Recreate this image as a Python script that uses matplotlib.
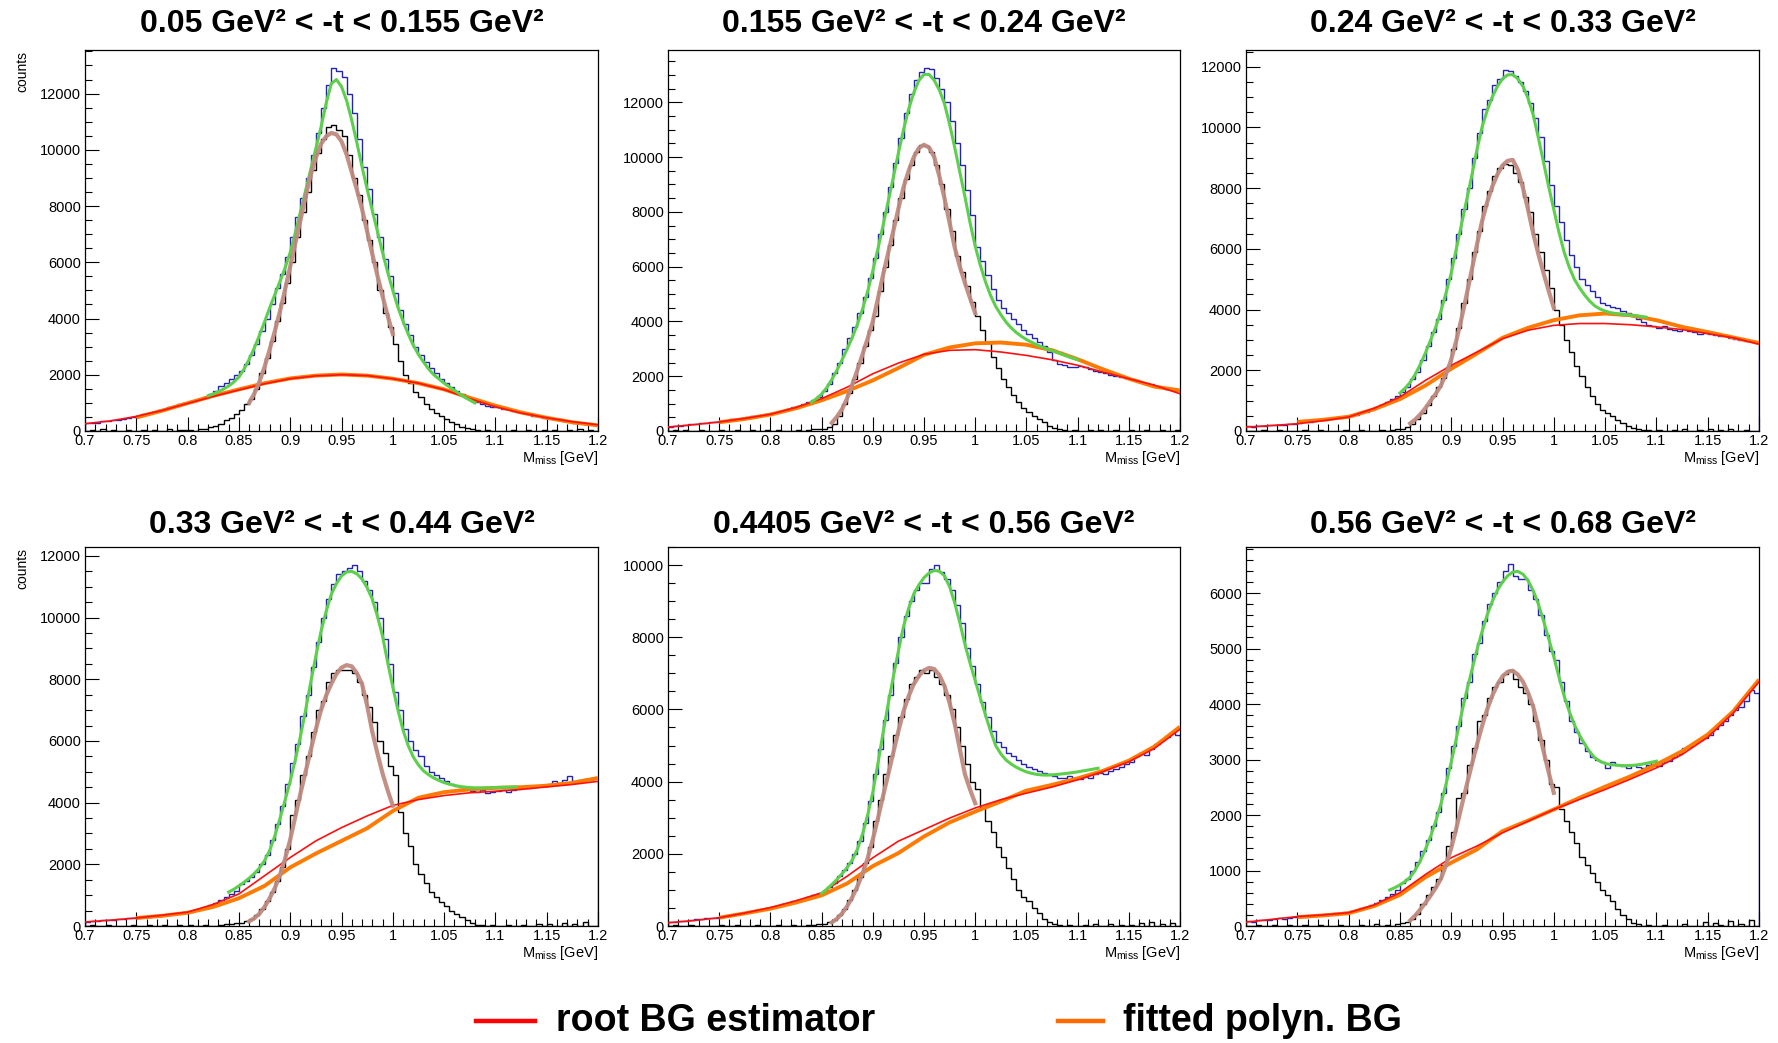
import numpy as np
import matplotlib
matplotlib.use("Agg")
import matplotlib.pyplot as plt
from matplotlib.ticker import MultipleLocator, FuncFormatter
from matplotlib.lines import Line2D

plt.rcParams['font.family'] = ['Liberation Sans', 'DejaVu Sans']

# ---------------- data ----------------
titles = ["0.05 GeV² < -t < 0.155 GeV²", "0.155 GeV² < -t < 0.24 GeV²", "0.24 GeV² < -t < 0.33 GeV²",
          "0.33 GeV² < -t < 0.44 GeV²", "0.4405 GeV² < -t < 0.56 GeV²", "0.56 GeV² < -t < 0.68 GeV²"]
y_max = [13550, 13910, 12550, 12290, 10500, 6830]
y_major = [2000, 2000, 2000, 2000, 2000, 1000]
y_minor = [500, 500, 500, 500, 500, 200]

# histogram bins: 0.7 .. 1.2, width 0.005
hist_lo, hist_hi, hist_w = 0.7, 1.2, 0.005

blue_1 = [270, 300, 290, 340, 350, 380, 400, 430, 470, 500,
          540, 590, 640, 690, 740, 790, 850, 900, 950, 1000,
          1020, 1070, 1130, 1200, 1300, 1420, 1600, 1700, 1850, 2000,
          2150, 2400, 2700, 3100, 3550, 4000, 4500, 5100, 5600, 6200,
          6900, 7600, 8300, 9000, 9800, 10600, 11500, 12300, 12900, 12800,
          12600, 12000, 11300, 10400, 9400, 8600, 7700, 6900, 6100, 5500,
          4900, 4300, 3800, 3400, 3000, 2700, 2450, 2250, 2050, 1850,
          1700, 1550, 1420, 1300, 1200, 1100, 1020, 950, 880, 840,
          840, 790, 770, 710, 690, 630, 610, 550, 530, 480,
          470, 420, 410, 360, 350, 300, 300, 250, 250, 200]
black_1 = [0, 20, 0, 60, 0, 30, 0, 0, 40, 10,
           0, 30, 0, 50, 10, 0, 60, 0, 20, 40,
           30, 10, 60, 80, 150, 180, 250, 380, 470, 600,
           750, 950, 1150, 1500, 2050, 2600, 3200, 3900, 4550, 5250,
           6000, 6900, 7800, 8500, 9300, 9900, 10400, 10800, 10900, 10700,
           10500, 9800, 9000, 8400, 7500, 6800, 6000, 5000, 4200, 3700,
           3100, 2500, 2000, 1700, 1400, 1200, 950, 800, 650, 550,
           420, 330, 240, 160, 100, 60, 20, 0, 30, 0,
           0, 10, 0, 40, 0, 0, 30, 0, 0, 20,
           0, 50, 0, 0, 20, 0, 60, 0, 30, 0]

blue_2 = [160, 170, 200, 210, 240, 260, 290, 300, 330, 340,
          360, 380, 420, 440, 470, 500, 530, 560, 590, 620,
          650, 700, 740, 800, 860, 920, 980, 1050, 1150, 1250,
          1450, 1700, 2100, 2500, 3000, 3400, 3800, 4300, 4900, 5600,
          6300, 7200, 8000, 8900, 9800, 10700, 11600, 12300, 12800, 13100,
          13250, 13200, 12900, 12500, 12000, 11300, 10500, 9700, 8800, 7900,
          6700, 6200, 5700, 5200, 4800, 4500, 4300, 4100, 3900, 3700,
          3550, 3400, 3250, 3100, 2900, 2600, 2450, 2400, 2350, 2320,
          2380, 2330, 2260, 2200, 2150, 2100, 2060, 2020, 1980, 1940,
          1900, 1850, 1800, 1750, 1700, 1650, 1600, 1550, 1500, 1450]
black_2 = [0, 20, 0, 40, 0, 0, 30, 0, 10, 0,
           20, 0, 0, 30, 0, 0, 40, 0, 0, 20,
           0, 30, 0, 0, 0, 20, 0, 40, 60, 80,
           90, 150, 250, 550, 1000, 1400, 1900, 2500, 3100, 3700,
           4200, 5100, 6000, 6800, 7700, 8500, 9200, 9700, 10200, 10450,
           10400, 10200, 9700, 9000, 8100, 7300, 6400, 5800, 5300, 4700,
           4200, 3700, 3200, 2700, 2300, 1900, 1600, 1300, 1050, 850,
           700, 550, 450, 330, 200, 120, 60, 30, 0, 40,
           0, 0, 30, 0, 50, 0, 0, 20, 0, 0,
           40, 0, 0, 20, 0, 0, 50, 0, 0, 30]

blue_3 = [150, 140, 170, 160, 190, 200, 210, 200, 230, 240,
          250, 280, 300, 330, 350, 370, 400, 420, 440, 470,
          500, 540, 590, 640, 700, 780, 860, 950, 1050, 1150,
          1300, 1450, 1700, 1950, 2350, 2800, 3250, 3700, 4300, 5000,
          5700, 6500, 7300, 8000, 9000, 9800, 10600, 10900, 11400, 11600,
          11900, 11850, 11700, 11500, 11200, 10800, 10300, 9700, 8900, 8100,
          7400, 6900, 6300, 5800, 5400, 5000, 4800, 4600, 4400, 4200,
          4150, 4100, 4050, 3950, 3900, 3800, 3700, 3600, 3500, 3450,
          3400, 3450, 3370, 3330, 3300, 3400, 3280, 3250, 3200, 3230,
          3180, 3150, 3120, 3150, 3050, 3030, 3000, 2970, 2950, 2900]
black_3 = [0, 10, 0, 30, 0, 0, 20, 0, 0, 10,
           0, 20, 0, 0, 30, 0, 0, 10, 0, 20,
           0, 0, 30, 0, 0, 10, 40, 0, 30, 50,
           80, 120, 220, 380, 600, 850, 1150, 1450, 1750, 2100,
           2700, 3400, 4200, 5000, 5900, 6600, 7400, 7900, 8400, 8650,
           8800, 8750, 8500, 8200, 7700, 7200, 6500, 5900, 5300, 4700,
           4000, 3500, 3000, 2600, 2150, 1800, 1450, 1150, 900, 700,
           600, 500, 350, 250, 180, 100, 60, 20, 40, 0,
           30, 0, 0, 40, 0, 60, 0, 0, 30, 0,
           50, 0, 40, 0, 60, 0, 0, 30, 0, 0]

blue_4 = [140, 150, 160, 190, 180, 200, 220, 230, 250, 260,
          270, 280, 300, 310, 330, 350, 370, 390, 410, 440,
          470, 520, 560, 620, 690, 760, 840, 930, 1030, 1150,
          1350, 1450, 1600, 1750, 2000, 2300, 2800, 3300, 3900, 4600,
          5300, 5900, 6800, 7500, 8400, 9200, 10000, 10600, 11100, 11400,
          11500, 11600, 11700, 11500, 11200, 10900, 10500, 10000, 9300, 8500,
          7600, 7000, 6400, 6000, 5700, 5500, 5200, 5000, 4900, 4800,
          4700, 4600, 4550, 4500, 4450, 4380, 4350, 4400, 4300, 4350,
          4380, 4400, 4350, 4420, 4450, 4500, 4480, 4550, 4530, 4580,
          4600, 4700, 4650, 4750, 4850, 4700, 4750, 4780, 4720, 4800]
black_4 = [0, 20, 0, 0, 30, 0, 10, 0, 0, 20,
           0, 0, 30, 0, 0, 20, 0, 0, 40, 0,
           20, 0, 0, 30, 0, 0, 20, 50, 80, 100,
           100, 150, 230, 350, 550, 800, 1100, 1450, 1900, 2500,
           3600, 4100, 4900, 5500, 6300, 7000, 7300, 7900, 8200, 8300,
           8300, 8300, 8200, 7900, 7500, 7100, 6600, 6000, 5600, 5200,
           4900, 3700, 3000, 2600, 2000, 1700, 1400, 1100, 950, 780,
           650, 500, 400, 300, 200, 100, 40, 20, 0, 30,
           0, 0, 40, 0, 0, 20, 0, 0, 50, 0,
           60, 0, 0, 100, 0, 50, 0, 120, 0, 0]

blue_5 = [100, 120, 140, 150, 160, 190, 200, 210, 220, 230,
          250, 270, 300, 330, 360, 380, 410, 440, 470, 500,
          530, 560, 600, 640, 680, 720, 760, 800, 860, 900,
          950, 1080, 1200, 1380, 1550, 1750, 2000, 2350, 2850, 3450,
          4200, 4900, 5700, 6400, 7300, 8000, 8600, 9000, 9300, 9500,
          9500, 9900, 10000, 9800, 9600, 9300, 8900, 8400, 7700, 7200,
          6700, 6200, 5800, 5400, 5100, 4950, 4800, 4700, 4600, 4500,
          4400, 4350, 4300, 4250, 4200, 4150, 4100, 4100, 4150, 4100,
          4080, 4120, 4100, 4200, 4250, 4200, 4300, 4350, 4400, 4500,
          4550, 4700, 4800, 4750, 4900, 5050, 5150, 5250, 5350, 5300]
black_5 = [0, 20, 0, 0, 30, 0, 0, 10, 0, 0,
           20, 0, 0, 30, 0, 0, 0, 20, 0, 0,
           0, 30, 0, 0, 20, 0, 0, 30, 40, 60,
           60, 100, 170, 300, 480, 720, 1000, 1350, 1750, 2200,
           2900, 3500, 4200, 4700, 5300, 5800, 6300, 6700, 6900, 7100,
           7000, 7100, 6900, 6700, 6400, 6000, 5500, 5000, 4500, 4000,
           3800, 3300, 2900, 2600, 2200, 1900, 1600, 1300, 1000, 800,
           700, 500, 350, 200, 120, 60, 30, 0, 40, 0,
           0, 30, 0, 50, 0, 0, 60, 0, 30, 0,
           40, 0, 80, 0, 120, 0, 60, 0, 90, 0]

blue_6 = [90, 80, 100, 110, 100, 130, 140, 120, 150, 160,
          170, 170, 180, 190, 200, 210, 220, 230, 240, 250,
          270, 290, 320, 350, 380, 420, 470, 520, 580, 640,
          780, 850, 1000, 1150, 1350, 1550, 1800, 2050, 2400, 2850,
          3250, 3600, 4100, 4400, 4900, 5100, 5500, 5800, 6000, 6200,
          6400, 6520, 6300, 6250, 6250, 6050, 5900, 5600, 5250, 4950,
          4800, 4400, 4050, 3700, 3500, 3300, 3150, 3050, 3000, 2950,
          2850, 2950, 2900, 2880, 2850, 2900, 2870, 2850, 2900, 2950,
          2880, 2950, 2980, 3050, 3100, 3200, 3230, 3300, 3350, 3380,
          3450, 3550, 3620, 3700, 3800, 3900, 3950, 4050, 4250, 4200]
black_6 = [0, 0, 20, 0, 0, 10, 0, 0, 20, 0,
           0, 10, 0, 0, 20, 0, 0, 0, 10, 0,
           0, 0, 20, 0, 0, 30, 0, 20, 0, 40,
           50, 70, 120, 220, 400, 550, 700, 850, 1100, 1450,
           1700, 2300, 2400, 2900, 3200, 3700, 3800, 4100, 4300, 4400,
           4550, 4620, 4450, 4300, 4200, 4000, 3700, 3350, 3000, 2550,
           2500, 2100, 1900, 1700, 1500, 1250, 1100, 950, 800, 650,
           550, 450, 300, 200, 130, 60, 40, 0, 20, 0,
           0, 20, 0, 0, 0, 30, 0, 0, 0, 80,
           0, 60, 20, 0, 90, 0, 40, 0, 100, 0]

# root BG estimator, sampled 0.700 .. 1.200 every 0.025
red_1 = [260, 360, 520, 730, 980, 1230, 1460, 1680, 1860, 1960, 2000, 1970, 1860, 1700, 1470, 1150, 860, 640, 470, 330, 220]
red_2 = [146, 230, 330, 460, 610, 860, 1180, 1600, 2090, 2480, 2800, 2945, 2970, 2885, 2760, 2600, 2400, 2150, 1910, 1670, 1360]
red_3 = [130, 180, 240, 340, 460, 750, 1120, 1670, 2160, 2600, 3040, 3320, 3480, 3540, 3540, 3500, 3430, 3340, 3210, 3070, 2860]
red_4 = [130, 190, 260, 350, 450, 700, 1040, 1630, 2220, 2760, 3190, 3570, 3910, 4100, 4230, 4320, 4370, 4430, 4510, 4590, 4690]
red_5 = [90, 150, 230, 360, 510, 700, 920, 1380, 1890, 2350, 2670, 2990, 3270, 3500, 3680, 3850, 4050, 4280, 4550, 4920, 5450]
red_6 = [70, 120, 170, 200, 240, 380, 600, 930, 1230, 1440, 1680, 1890, 2100, 2280, 2460, 2650, 2850, 3090, 3400, 3840, 4400]

# fitted polynomial BG, sampled 0.750 .. 1.200 every 0.025
orange_1 = [480, 720, 990, 1250, 1480, 1700, 1870, 1970, 2010, 1970, 1860, 1700, 1480, 1180, 900, 660, 470, 310, 200]
orange_2 = [320, 440, 600, 830, 1120, 1460, 1850, 2300, 2780, 3050, 3200, 3230, 3150, 2950, 2620, 2250, 1910, 1620, 1480]
orange_3 = [300, 370, 470, 720, 1050, 1500, 2050, 2550, 3070, 3400, 3650, 3810, 3870, 3810, 3650, 3430, 3260, 3080, 2900]
orange_4 = [260, 330, 430, 620, 900, 1300, 1900, 2350, 2760, 3170, 3730, 4160, 4340, 4430, 4480, 4500, 4550, 4640, 4800]
orange_5 = [230, 350, 480, 650, 850, 1180, 1660, 2020, 2480, 2870, 3170, 3450, 3750, 3910, 4090, 4300, 4580, 4970, 5520]
orange_6 = [160, 190, 230, 360, 560, 880, 1140, 1380, 1710, 1900, 2100, 2310, 2510, 2700, 2910, 3150, 3450, 3870, 4440]

# total fit (green), sampled every 0.005 from green_start
green_start = [0.82, 0.84, 0.85, 0.84, 0.85, 0.84]
green_1 = [1250, 1320, 1400, 1490, 1600, 1740, 1920, 2200, 2550, 2950, 3400, 3880, 4380, 4850, 5320,
           5800, 6350, 7050, 7800, 8550, 9300, 10050, 10800, 11650, 12350, 12500, 12250, 11750, 11050, 10250,
           9400, 8600, 7850, 7100, 6350, 5650, 5000, 4400, 3900, 3450, 3050, 2720, 2450, 2200, 2000,
           1850, 1700, 1570, 1450, 1320, 1200, 1100, 1000]
green_2 = [1050, 1180, 1350, 1580, 1880, 2220, 2600, 3000, 3420, 3900, 4450, 5100, 5850, 6650, 7500,
           8380, 9250, 10150, 11000, 11750, 12350, 12800, 13020, 13020, 12800, 12450, 11950, 11200, 10350, 9450,
           8550, 7600, 6750, 6050, 5450, 4950, 4550, 4250, 3980, 3770, 3600, 3460, 3340, 3240, 3150,
           3070, 3000, 2930, 2870, 2800, 2730, 2660, 2600]
green_3 = [1250, 1410, 1600, 1870, 2200, 2580, 3000, 3430, 3950, 4550, 5200, 6000, 6800, 7600, 8400,
           9250, 10000, 10550, 11000, 11350, 11600, 11730, 11740, 11600, 11350, 10950, 10400, 9650, 8850, 8050,
           7300, 6550, 5900, 5400, 5000, 4720, 4480, 4280, 4120, 4020, 3950, 3900, 3870, 3850, 3830,
           3815, 3800, 3775, 3750]
green_4 = [1100, 1190, 1300, 1420, 1550, 1700, 1880, 2120, 2450, 2920, 3480, 4080, 4700, 5400, 6150,
           7000, 7900, 8750, 9550, 10200, 10750, 11100, 11350, 11480, 11500, 11420, 11250, 10970, 10600, 10050,
           9400, 8550, 7750, 7000, 6350, 5850, 5480, 5220, 5030, 4900, 4800, 4720, 4650, 4600, 4560,
           4530, 4505, 4490, 4480, 4478, 4480, 4484, 4490, 4495, 4500, 4505, 4510]
green_5 = [900, 1020, 1150, 1290, 1450, 1620, 1830, 2130, 2550, 3080, 3700, 4500, 5350, 6150, 6900,
           7620, 8300, 8800, 9200, 9450, 9650, 9780, 9850, 9830, 9700, 9400, 8950, 8400, 7800, 7280,
           6800, 6320, 5850, 5400, 5000, 4770, 4600, 4490, 4400, 4330, 4270, 4230, 4200, 4185, 4180,
           4185, 4200, 4215, 4230, 4250, 4270, 4295, 4320, 4345, 4370]
green_6 = [650, 690, 740, 800, 880, 1010, 1180, 1390, 1620, 1890, 2200, 2560, 2950, 3380, 3820,
           4230, 4600, 4970, 5300, 5600, 5850, 6050, 6200, 6310, 6380, 6390, 6340, 6220, 6040, 5800,
           5500, 5180, 4850, 4490, 4150, 3870, 3630, 3440, 3280, 3140, 3030, 2970, 2930, 2910, 2900,
           2893, 2890, 2893, 2900, 2913, 2930, 2950, 2970]

# signal fit (brown), sampled 0.860 .. 1.000 every 0.005
brown_1 = [1000, 1330, 1750, 2280, 2900, 3550, 4250, 5030, 5850, 6680, 7500, 8330, 9100, 9720, 10200,
           10480, 10600, 10550, 10300, 9830, 9200, 8580, 7900, 7100, 6300, 5530, 4800, 4100, 3450]
brown_2 = [300, 520, 800, 1200, 1700, 2230, 2800, 3380, 4000, 4830, 5700, 6500, 7300, 8120, 8900,
           9500, 10000, 10330, 10450, 10350, 10000, 9300, 8500, 7600, 6700, 6000, 5400, 4850, 4300]
brown_3 = [250, 380, 550, 760, 1000, 1230, 1500, 1880, 2350, 2980, 3700, 4480, 5300, 6120, 6900,
           7530, 8050, 8450, 8750, 8900, 8930, 8600, 8000, 7280, 6500, 5820, 5200, 4620, 4050]
brown_4 = [150, 250, 400, 620, 900, 1230, 1650, 2180, 2800, 3550, 4300, 5000, 5700, 6380, 7000,
           7470, 7850, 8170, 8380, 8460, 8420, 8200, 7850, 7150, 6300, 5600, 4950, 4400, 3900]
brown_5 = [100, 200, 350, 550, 800, 1100, 1450, 1880, 2400, 2980, 3600, 4200, 4800, 5400, 5950,
           6370, 6700, 6930, 7080, 7150, 7120, 6950, 6650, 6180, 5600, 4900, 4200, 3780, 3400]
brown_6 = [100, 190, 300, 420, 550, 690, 850, 1100, 1400, 1760, 2150, 2530, 2900, 3260, 3600,
           3900, 4150, 4350, 4500, 4580, 4600, 4530, 4400, 4200, 3950, 3570, 3150, 2770, 2400]

legend_labels = ["root BG estimator", "fitted polyn. BG"]

blues = [blue_1, blue_2, blue_3, blue_4, blue_5, blue_6]
blacks = [black_1, black_2, black_3, black_4, black_5, black_6]
reds = [red_1, red_2, red_3, red_4, red_5, red_6]
oranges = [orange_1, orange_2, orange_3, orange_4, orange_5, orange_6]
greens = [green_1, green_2, green_3, green_4, green_5, green_6]
browns = [brown_1, brown_2, brown_3, brown_4, brown_5, brown_6]

# ---------------- layout ----------------
W, H = 1778, 1043
fig = plt.figure(figsize=(W / 100, H / 100), dpi=100)
col_px = [(85, 598), (668, 1180), (1246, 1759)]
row_px = [(50, 431), (547, 926)]
title_px = [24, 525]

C_BLUE = '#2424b0'
C_GREEN = '#5cd04a'
C_BROWN = '#c08a80'
C_RED = '#ff1010'
C_ORANGE = '#ff7a00'

edges = np.round(np.arange(hist_lo, hist_hi + hist_w / 2, hist_w), 4)
x_red = np.round(np.arange(0.7, 1.2001, 0.025), 4)
x_orange = np.round(np.arange(0.75, 1.2001, 0.025), 4)

for i in range(6):
    r, c = divmod(i, 3)
    x0, x1 = col_px[c]
    y0, y1 = row_px[r]
    ax = fig.add_axes([x0 / W, 1 - y1 / H, (x1 - x0) / W, (y1 - y0) / H])
    ax.stairs(blues[i], edges, color=C_BLUE, lw=1.0, zorder=2)
    ax.stairs(blacks[i], edges, color='black', lw=1.0, zorder=3)
    ax.plot(x_orange, oranges[i], color=C_ORANGE, lw=2.8, zorder=4, solid_capstyle='butt')
    ax.plot(x_red, reds[i], color=C_RED, lw=1.2, zorder=5)
    gx = np.round(green_start[i] + 0.005 * np.arange(len(greens[i])), 4)
    ax.plot(gx, greens[i], color=C_GREEN, lw=2.2, zorder=6)
    bx = np.round(0.86 + 0.005 * np.arange(len(browns[i])), 4)
    ax.plot(bx, browns[i], color=C_BROWN, lw=3.0, zorder=7, alpha=0.95)

    ax.set_xlim(0.7, 1.2)
    ax.set_ylim(0, y_max[i])
    ax.xaxis.set_major_locator(MultipleLocator(0.05))
    ax.xaxis.set_minor_locator(MultipleLocator(0.01))
    ax.yaxis.set_major_locator(MultipleLocator(y_major[i]))
    ax.yaxis.set_minor_locator(MultipleLocator(y_minor[i]))
    ax.xaxis.set_major_formatter(FuncFormatter(lambda v, p: f"{round(v, 3):g}"))
    ax.yaxis.set_major_formatter(FuncFormatter(lambda v, p: f"{int(round(v))}"))
    ax.tick_params(axis='both', which='both', direction='in', top=False, right=False,
                   labelsize=10.5, width=0.8, colors='black')
    ax.tick_params(axis='both', which='major', length=10)
    ax.tick_params(axis='both', which='minor', length=5)
    ax.tick_params(axis='x', which='major', pad=2)
    ax.tick_params(axis='y', which='major', pad=3)
    for s in ax.spines.values():
        s.set_linewidth(0.9)
        s.set_color('black')

    # title
    fig.text((x0 + x1) / 2 / W, 1 - title_px[r] / H, titles[i],
             ha='center', va='center', fontsize=23, fontweight='bold')
    # x label
    fig.text(x1 / W, 1 - (y1 + 27) / H, r"M$_{\mathregular{miss}}$ [GeV]", ha='right', va='center',
             fontsize=10.5)
    if c == 0:
        fig.text(22 / W, 1 - (y0 + 1) / H, "counts", rotation=90, ha='center', va='top', fontsize=10)

# legend at bottom
ly = 1 - 1021 / H
fig.add_artist(Line2D([476 / W, 535 / W], [ly, ly], color='#ff0000', lw=3.2, transform=fig.transFigure))
fig.text(556 / W, ly, legend_labels[0], ha='left', va='center', fontsize=27, fontweight='bold')
fig.add_artist(Line2D([1058 / W, 1103 / W], [ly, ly], color='#ff6a00', lw=3.2, transform=fig.transFigure))
fig.text(1123 / W, ly, legend_labels[1], ha='left', va='center', fontsize=27, fontweight='bold')

fig.savefig("out.png", dpi=100)
